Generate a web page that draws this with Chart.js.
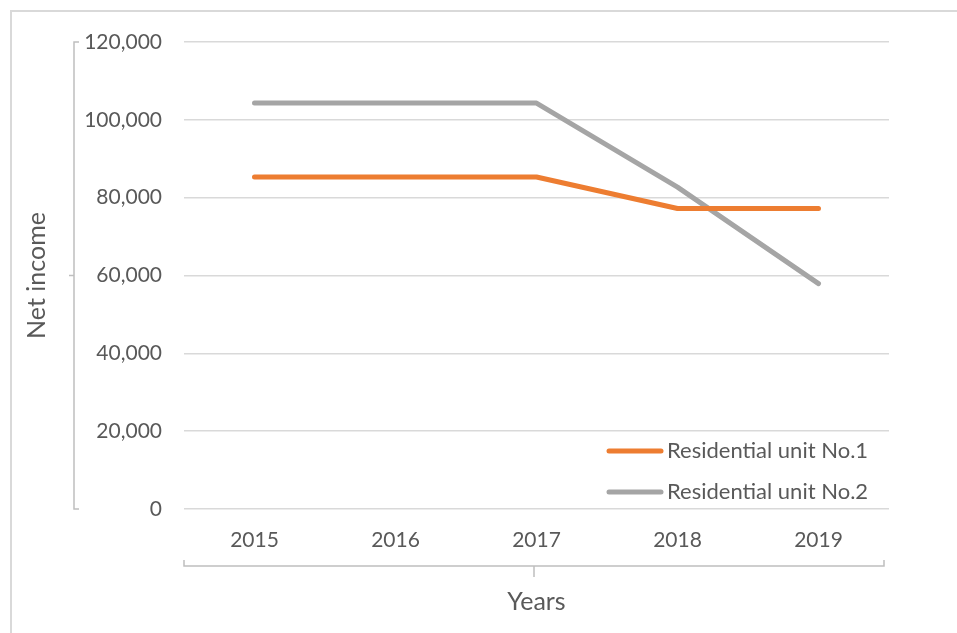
<!DOCTYPE html>
<html>
<head>
<meta charset="utf-8">
<script src="https://cdn.jsdelivr.net/npm/chart.js@4"></script>
<style>
  html, body { margin: 0; padding: 0; background: #fff; overflow: hidden; }
  #wrap { position: relative; width: 957px; height: 633px; }
  #frame { position: absolute; left: 10px; top: 10px; width: 1000px; height: 700px;
           border-left: 2px solid #d9d9d9; border-top: 2px solid #d9d9d9; }
  canvas { position: absolute; left: 0; top: 0; }
</style>
</head>
<body>
<div id="wrap">
  <div id="frame"></div>
  <canvas id="chart" width="957" height="633"></canvas>
</div>
<script>
const years = ["2015", "2016", "2017", "2018", "2019"];
const unit1 = [85300, 85300, 85300, 77200, 77200];
const unit2 = [104300, 104300, 104300, 82700, 57900];
const seriesNames = ["Residential unit No.1", "Residential unit No.2"];
const yTicks = [0, 20000, 40000, 60000, 80000, 100000, 120000];

const textColor = "#595959";
const fontFamily = "Lato, 'Open Sans', sans-serif";

// Excel-style bracket lines around the axis titles + legend drawn inside the plot
const extras = {
  id: "extras",
  afterDraw(chart) {
    const ctx = chart.ctx;
    const a = chart.chartArea;
    ctx.save();
    ctx.strokeStyle = "#bfbfbf";
    ctx.lineWidth = 1.5;
    // y bracket
    const bx = 74;
    ctx.beginPath();
    ctx.moveTo(bx + 5, a.top); ctx.lineTo(bx, a.top); ctx.lineTo(bx, a.bottom); ctx.lineTo(bx + 5, a.bottom);
    const my = (a.top + a.bottom) / 2;
    ctx.moveTo(bx, my); ctx.lineTo(bx - 5, my);
    ctx.stroke();
    // x bracket
    const by = 566;
    const rx = a.right - 5;
    ctx.beginPath();
    ctx.moveTo(a.left, by - 6); ctx.lineTo(a.left, by); ctx.lineTo(rx, by); ctx.lineTo(rx, by - 6);
    const mx = (a.left + rx) / 2;
    ctx.moveTo(mx, by); ctx.lineTo(mx, by + 11);
    ctx.stroke();

    // legend
    ctx.font = "22px " + fontFamily;
    ctx.textBaseline = "middle";
    ctx.textAlign = "left";
    ctx.lineCap = "round";
    const rows = [451, 492];
    chart.data.datasets.forEach((ds, i) => {
      ctx.strokeStyle = ds.borderColor;
      ctx.lineWidth = 5;
      ctx.beginPath();
      ctx.moveTo(609, rows[i]); ctx.lineTo(661, rows[i]);
      ctx.stroke();
      ctx.fillStyle = textColor;
      ctx.fillText(ds.label, 667, rows[i]);
    });
    ctx.restore();
  }
};

new Chart(document.getElementById("chart").getContext("2d"), {
  type: "line",
  data: {
    labels: years,
    datasets: [
      {
        label: seriesNames[0],
        data: unit1,
        borderColor: "#ED7D31",
        borderWidth: 5,
        pointRadius: 0,
        borderCapStyle: "round",
        borderJoinStyle: "round",
        fill: false,
      },
      {
        label: seriesNames[1],
        data: unit2,
        borderColor: "#A5A5A5",
        borderWidth: 5,
        pointRadius: 0,
        borderCapStyle: "round",
        borderJoinStyle: "round",
        fill: false,
      },
    ],
  },
  options: {
    responsive: false,
    animation: false,
    devicePixelRatio: 1,
    layout: { padding: { left: 0, top: 42, right: 68, bottom: 0 } },
    plugins: { legend: { display: false }, tooltip: { enabled: false } },
    scales: {
      x: {
        offset: true,
        grid: { display: false },
        border: { display: false },
        ticks: { color: textColor, font: { family: fontFamily, size: 21 }, padding: 11 },
        title: {
          display: true,
          text: "Years",
          color: textColor,
          font: { family: fontFamily, size: 25 },
          padding: { top: 4, bottom: 16 },
        },
        afterFit(scale) { scale.height = 633 - 509; },
      },
      y: {
        min: 0,
        max: 120000,
        afterBuildTicks(scale) { scale.ticks = yTicks.map((v) => ({ value: v })); },
        grid: { color: "#d9d9d9", lineWidth: 1.5, drawTicks: false },
        border: { display: false },
        ticks: {
          color: textColor,
          font: { family: fontFamily, size: 21 },
          padding: 22,
          callback: (v) => v.toLocaleString("en-US"),
        },
        title: {
          display: true,
          text: "Net income",
          color: textColor,
          font: { family: fontFamily, size: 25 },
          padding: { top: 22, bottom: 4 },
        },
        afterFit(scale) { scale.width = 184; },
      },
    },
  },
  plugins: [extras],
});
</script>
</body>
</html>
